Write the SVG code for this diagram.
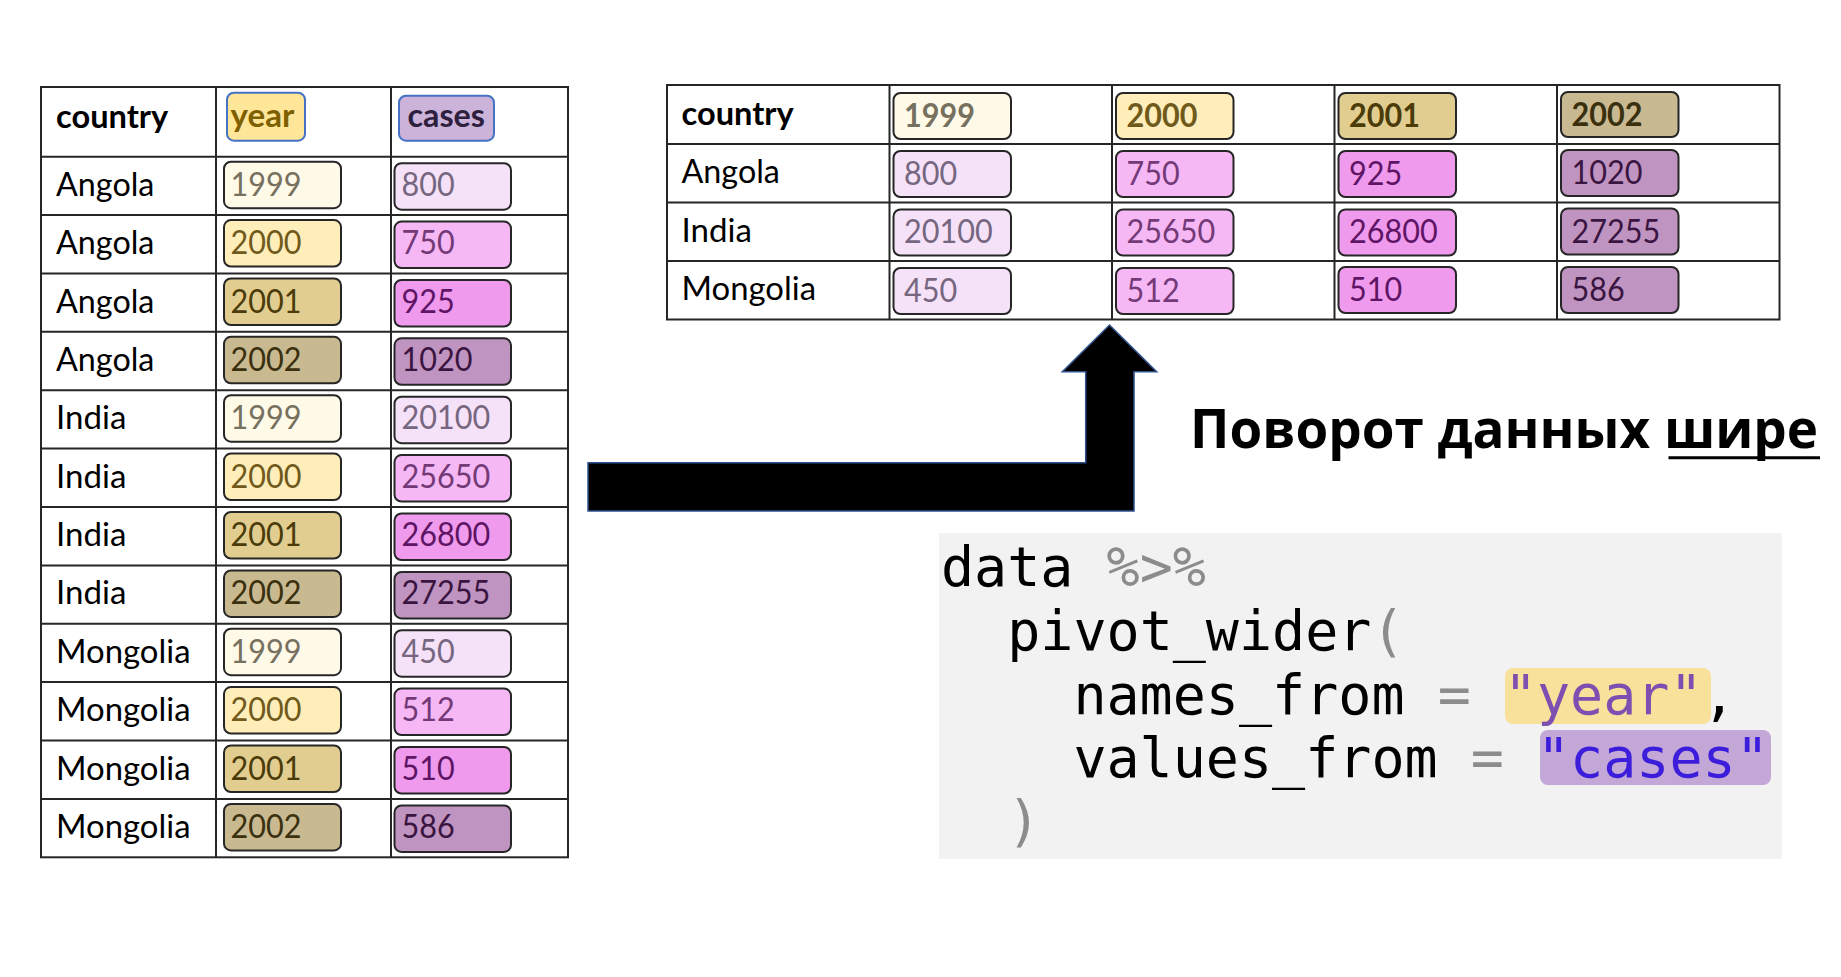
<svg xmlns="http://www.w3.org/2000/svg" width="1841" height="977" viewBox="0 0 1841 977">
<style>
.grid{fill:none;stroke:#262626;stroke-width:2}
.pill{stroke:#262626;stroke-width:2}
.hp{stroke:#4472c4;stroke-width:2}
.t{font-family:Lato,"Liberation Sans",sans-serif;font-size:32.5px;fill:#000}
.b{font-weight:bold}
.y1{fill:#fff9e8}.y2{fill:#ffedba}.y3{fill:#e2cd90}.y4{fill:#c8b991}
.c1{fill:#f5e2f8}.c2{fill:#f5b8f4}.c3{fill:#ef9aec}.c4{fill:#c094c0}
.ty1{fill:#76705f}.ty2{fill:#6f5a1c}.ty3{fill:#4a3b08}.ty4{fill:#3a300e}
.tc1{fill:#766680}.tc2{fill:#743977}.tc3{fill:#5f1565}.tc4{fill:#3a1541}
.code{font-family:"DejaVu Sans Mono","Liberation Mono",monospace;font-size:55px;fill:#000}
.g{fill:#8c8c8c}
</style>
<rect width="1841" height="977" fill="#fff"/>

<g id="long-table">
  <rect class="grid" x="41" y="87" width="527" height="770.3"/>
  <path class="grid" d="M216 87V857.3M391 87V857.3M41 156.7H568M41 215.1H568M41 273.5H568M41 331.8H568M41 390.2H568M41 448.6H568M41 507H568M41 565.4H568M41 623.7H568M41 682.1H568M41 740.5H568M41 798.9H568"/>
  <g id="long-header">
    <text class="t b" x="56" y="127.7" textLength="112.2" lengthAdjust="spacingAndGlyphs">country</text>
    <rect class="hp" x="227" y="92.7" width="78" height="48" rx="7" fill="#ffe699"/>
    <text class="t b" x="230.5" y="127" textLength="63.9" lengthAdjust="spacingAndGlyphs" style="fill:#7f6000">year</text>
    <rect class="hp" x="399" y="95.7" width="95" height="45" rx="7" fill="#cbb3da"/>
    <text class="t b" x="407.5" y="127" textLength="77.5" lengthAdjust="spacingAndGlyphs" style="fill:#2e1f3e">cases</text>
  </g>
  <g id="long-r1">
    <text class="t" x="56" y="195.7" textLength="98.4" lengthAdjust="spacingAndGlyphs">Angola</text>
    <rect class="pill y1" x="224" y="161.7" width="117" height="46.5" rx="7"/>
    <text class="t ty1" x="230.5" y="195.7" textLength="71" lengthAdjust="spacingAndGlyphs">1999</text>
    <rect class="pill c1" x="394.5" y="163.2" width="116.5" height="46.5" rx="7"/>
    <text class="t tc1" x="401.5" y="195.7" textLength="53.2" lengthAdjust="spacingAndGlyphs">800</text>
  </g>
  <g id="long-r2">
    <text class="t" x="56" y="254.1" textLength="98.4" lengthAdjust="spacingAndGlyphs">Angola</text>
    <rect class="pill y2" x="224" y="220.1" width="117" height="46.5" rx="7"/>
    <text class="t ty2" x="230.5" y="254.1" textLength="71" lengthAdjust="spacingAndGlyphs">2000</text>
    <rect class="pill c2" x="394.5" y="221.6" width="116.5" height="46.5" rx="7"/>
    <text class="t tc2" x="401.5" y="254.1" textLength="53.2" lengthAdjust="spacingAndGlyphs">750</text>
  </g>
  <g id="long-r3">
    <text class="t" x="56" y="312.5" textLength="98.4" lengthAdjust="spacingAndGlyphs">Angola</text>
    <rect class="pill y3" x="224" y="278.5" width="117" height="46.5" rx="7"/>
    <text class="t ty3" x="230.5" y="312.5" textLength="71" lengthAdjust="spacingAndGlyphs">2001</text>
    <rect class="pill c3" x="394.5" y="280" width="116.5" height="46.5" rx="7"/>
    <text class="t tc3" x="401.5" y="312.5" textLength="53.2" lengthAdjust="spacingAndGlyphs">925</text>
  </g>
  <g id="long-r4">
    <text class="t" x="56" y="370.8" textLength="98.4" lengthAdjust="spacingAndGlyphs">Angola</text>
    <rect class="pill y4" x="224" y="336.8" width="117" height="46.5" rx="7"/>
    <text class="t ty4" x="230.5" y="370.8" textLength="71" lengthAdjust="spacingAndGlyphs">2002</text>
    <rect class="pill c4" x="394.5" y="338.3" width="116.5" height="46.5" rx="7"/>
    <text class="t tc4" x="401.5" y="370.8" textLength="71" lengthAdjust="spacingAndGlyphs">1020</text>
  </g>
  <g id="long-r5">
    <text class="t" x="56" y="429.2" textLength="70.4" lengthAdjust="spacingAndGlyphs">India</text>
    <rect class="pill y1" x="224" y="395.2" width="117" height="46.5" rx="7"/>
    <text class="t ty1" x="230.5" y="429.2" textLength="71" lengthAdjust="spacingAndGlyphs">1999</text>
    <rect class="pill c1" x="394.5" y="396.7" width="116.5" height="46.5" rx="7"/>
    <text class="t tc1" x="401.5" y="429.2" textLength="88.7" lengthAdjust="spacingAndGlyphs">20100</text>
  </g>
  <g id="long-r6">
    <text class="t" x="56" y="487.6" textLength="70.4" lengthAdjust="spacingAndGlyphs">India</text>
    <rect class="pill y2" x="224" y="453.6" width="117" height="46.5" rx="7"/>
    <text class="t ty2" x="230.5" y="487.6" textLength="71" lengthAdjust="spacingAndGlyphs">2000</text>
    <rect class="pill c2" x="394.5" y="455.1" width="116.5" height="46.5" rx="7"/>
    <text class="t tc2" x="401.5" y="487.6" textLength="88.7" lengthAdjust="spacingAndGlyphs">25650</text>
  </g>
  <g id="long-r7">
    <text class="t" x="56" y="546" textLength="70.4" lengthAdjust="spacingAndGlyphs">India</text>
    <rect class="pill y3" x="224" y="512" width="117" height="46.5" rx="7"/>
    <text class="t ty3" x="230.5" y="546" textLength="71" lengthAdjust="spacingAndGlyphs">2001</text>
    <rect class="pill c3" x="394.5" y="513.5" width="116.5" height="46.5" rx="7"/>
    <text class="t tc3" x="401.5" y="546" textLength="88.7" lengthAdjust="spacingAndGlyphs">26800</text>
  </g>
  <g id="long-r8">
    <text class="t" x="56" y="604.4" textLength="70.4" lengthAdjust="spacingAndGlyphs">India</text>
    <rect class="pill y4" x="224" y="570.4" width="117" height="46.5" rx="7"/>
    <text class="t ty4" x="230.5" y="604.4" textLength="71" lengthAdjust="spacingAndGlyphs">2002</text>
    <rect class="pill c4" x="394.5" y="571.9" width="116.5" height="46.5" rx="7"/>
    <text class="t tc4" x="401.5" y="604.4" textLength="88.7" lengthAdjust="spacingAndGlyphs">27255</text>
  </g>
  <g id="long-r9">
    <text class="t" x="56" y="662.7" textLength="134.5" lengthAdjust="spacingAndGlyphs">Mongolia</text>
    <rect class="pill y1" x="224" y="628.7" width="117" height="46.5" rx="7"/>
    <text class="t ty1" x="230.5" y="662.7" textLength="71" lengthAdjust="spacingAndGlyphs">1999</text>
    <rect class="pill c1" x="394.5" y="630.2" width="116.5" height="46.5" rx="7"/>
    <text class="t tc1" x="401.5" y="662.7" textLength="53.2" lengthAdjust="spacingAndGlyphs">450</text>
  </g>
  <g id="long-r10">
    <text class="t" x="56" y="721.1" textLength="134.5" lengthAdjust="spacingAndGlyphs">Mongolia</text>
    <rect class="pill y2" x="224" y="687.1" width="117" height="46.5" rx="7"/>
    <text class="t ty2" x="230.5" y="721.1" textLength="71" lengthAdjust="spacingAndGlyphs">2000</text>
    <rect class="pill c2" x="394.5" y="688.6" width="116.5" height="46.5" rx="7"/>
    <text class="t tc2" x="401.5" y="721.1" textLength="53.2" lengthAdjust="spacingAndGlyphs">512</text>
  </g>
  <g id="long-r11">
    <text class="t" x="56" y="779.5" textLength="134.5" lengthAdjust="spacingAndGlyphs">Mongolia</text>
    <rect class="pill y3" x="224" y="745.5" width="117" height="46.5" rx="7"/>
    <text class="t ty3" x="230.5" y="779.5" textLength="71" lengthAdjust="spacingAndGlyphs">2001</text>
    <rect class="pill c3" x="394.5" y="747" width="116.5" height="46.5" rx="7"/>
    <text class="t tc3" x="401.5" y="779.5" textLength="53.2" lengthAdjust="spacingAndGlyphs">510</text>
  </g>
  <g id="long-r12">
    <text class="t" x="56" y="837.9" textLength="134.5" lengthAdjust="spacingAndGlyphs">Mongolia</text>
    <rect class="pill y4" x="224" y="803.9" width="117" height="46.5" rx="7"/>
    <text class="t ty4" x="230.5" y="837.9" textLength="71" lengthAdjust="spacingAndGlyphs">2002</text>
    <rect class="pill c4" x="394.5" y="805.4" width="116.5" height="46.5" rx="7"/>
    <text class="t tc4" x="401.5" y="837.9" textLength="53.2" lengthAdjust="spacingAndGlyphs">586</text>
  </g>
</g>

<g id="wide-table">
  <rect class="grid" x="667" y="85" width="1112.5" height="234.5"/>
  <path class="grid" d="M889.5 85V319.5M1112 85V319.5M1334.5 85V319.5M1557 85V319.5M667 144H1779.5M667 202.5H1779.5M667 261H1779.5"/>
  <g id="wide-header">
    <text class="t b" x="681.5" y="125" textLength="112.2" lengthAdjust="spacingAndGlyphs">country</text>
    <rect class="pill y1" x="893.5" y="93" width="117.5" height="46" rx="7"/>
    <text class="t b ty1" x="904" y="126.5" textLength="71" lengthAdjust="spacingAndGlyphs">1999</text>
    <rect class="pill y2" x="1116" y="93" width="117.5" height="46" rx="7"/>
    <text class="t b ty2" x="1126.5" y="126.5" textLength="71" lengthAdjust="spacingAndGlyphs">2000</text>
    <rect class="pill y3" x="1338.5" y="93" width="117.5" height="46" rx="7"/>
    <text class="t b ty3" x="1349" y="126.5" textLength="71" lengthAdjust="spacingAndGlyphs">2001</text>
    <rect class="pill y4" x="1561" y="92" width="117.5" height="45" rx="7"/>
    <text class="t b ty4" x="1571.5" y="126" textLength="71" lengthAdjust="spacingAndGlyphs">2002</text>
  </g>
  <g id="wide-angola">
    <text class="t" x="681.5" y="183.3" textLength="98.4" lengthAdjust="spacingAndGlyphs">Angola</text>
    <rect class="pill c1" x="893.5" y="151" width="117.5" height="46" rx="7"/>
    <text class="t tc1" x="904" y="184.5" textLength="53.2" lengthAdjust="spacingAndGlyphs">800</text>
    <rect class="pill c2" x="1116" y="151" width="117.5" height="46" rx="7"/>
    <text class="t tc2" x="1126.5" y="184.5" textLength="53.2" lengthAdjust="spacingAndGlyphs">750</text>
    <rect class="pill c3" x="1338.5" y="151" width="117.5" height="46" rx="7"/>
    <text class="t tc3" x="1349" y="184.5" textLength="53.2" lengthAdjust="spacingAndGlyphs">925</text>
    <rect class="pill c4" x="1561" y="150" width="117.5" height="46" rx="7"/>
    <text class="t tc4" x="1571.5" y="184" textLength="71" lengthAdjust="spacingAndGlyphs">1020</text>
  </g>
  <g id="wide-india">
    <text class="t" x="681.5" y="241.8" textLength="70.4" lengthAdjust="spacingAndGlyphs">India</text>
    <rect class="pill c1" x="893.5" y="209.5" width="117.5" height="46" rx="7"/>
    <text class="t tc1" x="904" y="243" textLength="88.7" lengthAdjust="spacingAndGlyphs">20100</text>
    <rect class="pill c2" x="1116" y="209.5" width="117.5" height="46" rx="7"/>
    <text class="t tc2" x="1126.5" y="243" textLength="88.7" lengthAdjust="spacingAndGlyphs">25650</text>
    <rect class="pill c3" x="1338.5" y="209.5" width="117.5" height="46" rx="7"/>
    <text class="t tc3" x="1349" y="243" textLength="88.7" lengthAdjust="spacingAndGlyphs">26800</text>
    <rect class="pill c4" x="1561" y="208.5" width="117.5" height="46" rx="7"/>
    <text class="t tc4" x="1571.5" y="242.5" textLength="88.7" lengthAdjust="spacingAndGlyphs">27255</text>
  </g>
  <g id="wide-mongolia">
    <text class="t" x="681.5" y="300.3" textLength="134.5" lengthAdjust="spacingAndGlyphs">Mongolia</text>
    <rect class="pill c1" x="893.5" y="268" width="117.5" height="46" rx="7"/>
    <text class="t tc1" x="904" y="301.5" textLength="53.2" lengthAdjust="spacingAndGlyphs">450</text>
    <rect class="pill c2" x="1116" y="268" width="117.5" height="46" rx="7"/>
    <text class="t tc2" x="1126.5" y="301.5" textLength="53.2" lengthAdjust="spacingAndGlyphs">512</text>
    <rect class="pill c3" x="1338.5" y="267" width="117.5" height="46" rx="7"/>
    <text class="t tc3" x="1349" y="300.5" textLength="53.2" lengthAdjust="spacingAndGlyphs">510</text>
    <rect class="pill c4" x="1561" y="267" width="117.5" height="46" rx="7"/>
    <text class="t tc4" x="1571.5" y="300.5" textLength="53.2" lengthAdjust="spacingAndGlyphs">586</text>
  </g>
</g>

<g id="connectors">
  <path d="M588 462.7H1085.7V371.7H1062.3L1109.5 325L1156.7 371.7H1134V511H588Z" fill="#000" stroke="#2f528f" stroke-width="1.5" stroke-linejoin="miter"/>
</g>

<g id="title">
  <text x="1190" y="448" font-family="'Open Sans','Noto Sans',sans-serif" font-weight="bold" font-size="53.5" textLength="628" lengthAdjust="spacingAndGlyphs" fill="#000">Поворот данных шире</text>
  <line x1="1668.5" y1="457.8" x2="1820" y2="457.8" stroke="#000" stroke-width="3"/>
</g>

<g id="code">
  <rect x="939" y="533" width="843" height="326" fill="#f2f2f2"/>
  <rect x="1505" y="668" width="206" height="56" rx="8" fill="#f8e19a"/>
  <rect x="1540" y="730" width="231" height="55" rx="8" fill="#c3a7d7"/>
  <text class="code" x="941" y="586">data <tspan class="g">%&gt;%</tspan></text>
  <text class="code" x="1007.2" y="650">pivot_wider<tspan class="g">(</tspan></text>
  <text class="code" x="1073.4" y="714">names_from <tspan class="g">=</tspan> <tspan fill="#7d4fb0">"year"</tspan>,</text>
  <text class="code" x="1073.4" y="777">values_from <tspan class="g">=</tspan> <tspan fill="#3c1ddb">"cases"</tspan></text>
  <text class="code g" x="1007.2" y="840">)</text>
</g>
</svg>
